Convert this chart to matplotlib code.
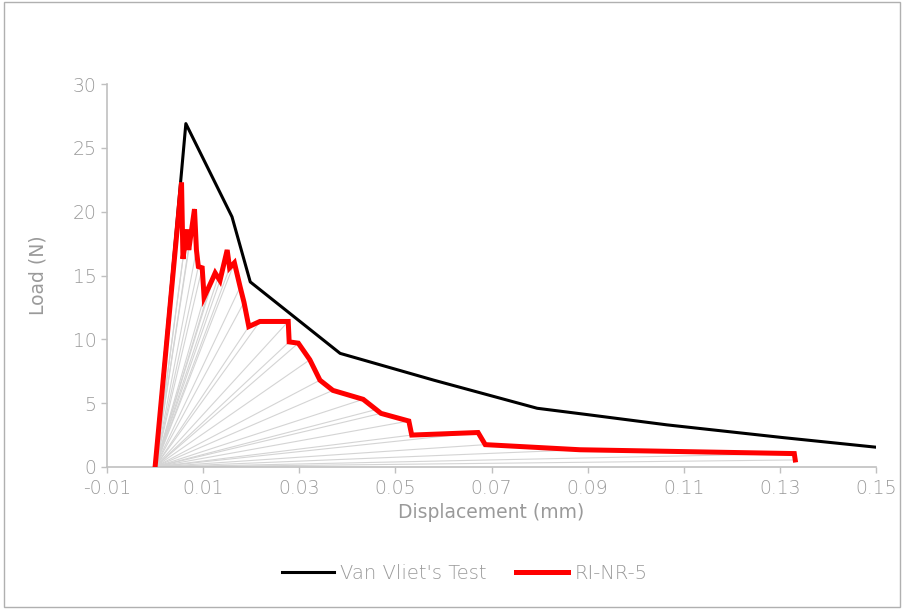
import numpy as np
import matplotlib.pyplot as plt
from matplotlib.patches import Rectangle

# Van Vliet's Test
vv_disp = [0.0, 0.0064, 0.016, 0.0198, 0.0385, 0.058, 0.0795, 0.090, 0.1065, 0.1307, 0.150]
vv_load = [0.0, 26.9, 19.6, 14.5, 8.9, 6.8, 4.6, 4.1, 3.3, 2.3, 1.55]

# RI-NR-5
ri_disp = [0.0, 0.0055, 0.0058, 0.0066, 0.0070, 0.0082, 0.0086, 0.0090, 0.0098, 0.0102,
           0.0118, 0.0125, 0.0135, 0.0150, 0.0155, 0.0165, 0.0177, 0.0185, 0.0195, 0.0218,
           0.0277, 0.0279, 0.0298, 0.0322, 0.0343, 0.0370, 0.0433, 0.0460, 0.0470, 0.0528,
           0.0534, 0.0672, 0.0687, 0.0884, 0.1330, 0.1332]
ri_load = [0.0, 22.3, 16.3, 18.6, 17.0, 20.2, 17.0, 15.7, 15.6, 13.3,
           14.6, 15.2, 14.6, 17.0, 15.6, 16.0, 14.1, 12.9, 11.0, 11.4,
           11.4, 9.8, 9.7, 8.4, 6.8, 6.0, 5.3, 4.5, 4.2, 3.6,
           2.5, 2.7, 1.75, 1.35, 1.05, 0.55]

xticks = [-0.01, 0.01, 0.03, 0.05, 0.07, 0.09, 0.11, 0.13, 0.15]
xticklabels = ["-0.01", "0.01", "0.03", "0.05", "0.07", "0.09", "0.11", "0.13", "0.15"]
yticks = [0, 5, 10, 15, 20, 25, 30]

plt.rcParams['font.family'] = ['DejaVu Sans']
plt.rcParams['font.weight'] = 'light'
txt = '#9a9a9a'
axc = '#c0c0c0'

fig = plt.figure(figsize=(9.04, 6.09), dpi=100)
ax = fig.add_axes([0.1184, 0.2332, 0.8506, 0.6288])

# unloading fan from origin to each point on the red curve
for xd, yl in zip(ri_disp[1:], ri_load[1:]):
    ax.plot([ri_disp[0], xd], [ri_load[0], yl], color='#d4d4d4', lw=0.8, zorder=1)

ax.plot(vv_disp, vv_load, color='black', lw=2.2, label="Van Vliet's Test", zorder=3)
ax.plot(ri_disp, ri_load, color='#ff0000', lw=3.6, label='RI-NR-5', zorder=4,
        solid_joinstyle='miter')

ax.set_xlim(-0.01, 0.15)
ax.set_ylim(0, 30)
ax.set_xticks(xticks)
ax.set_xticklabels(xticklabels)
ax.set_yticks(yticks)

for s in ['top', 'right']:
    ax.spines[s].set_visible(False)
for s in ['left', 'bottom']:
    ax.spines[s].set_color(axc)
    ax.spines[s].set_linewidth(1.2)
ax.tick_params(colors=axc, labelcolor=txt, labelsize=13.5, length=4, width=1.0, direction='out')
ax.tick_params(axis='x', pad=5)

ax.set_xlabel('Displacement (mm)', color=txt, fontsize=13.5, labelpad=3)
ax.set_ylabel('Load (N)', color=txt, fontsize=13.5, labelpad=18)

leg = fig.legend(loc='center', bbox_to_anchor=(0.514, 0.059), ncol=2, frameon=False,
                 fontsize=14, handlelength=2.7, handletextpad=0.3, columnspacing=1.5)
for t in leg.get_texts():
    t.set_color(txt)

fig.patches.append(Rectangle((0.004, 0.004), 0.992, 0.992, transform=fig.transFigure,
                             fill=False, edgecolor='#b0b0b0', lw=1.0))

fig.savefig('out.png', dpi=100)
